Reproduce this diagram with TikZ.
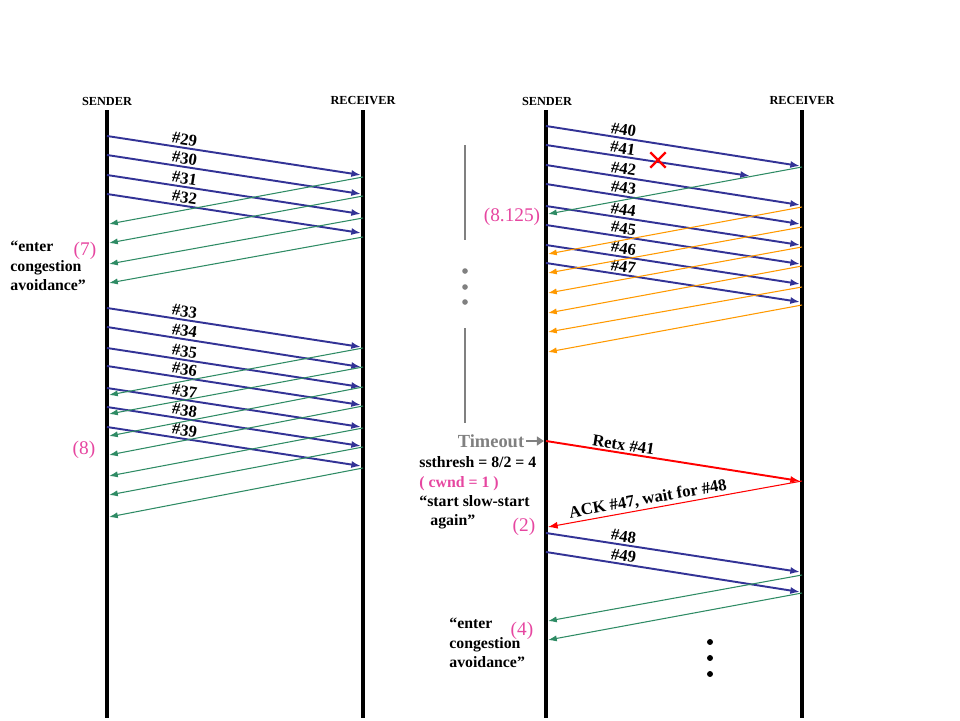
\documentclass[tikz,border=0pt]{standalone}
\usepackage{fontspec}
\setmainfont{Liberation Serif}
\usetikzlibrary{arrows.meta,shapes.misc,positioning}
\definecolor{datablue}{RGB}{51,51,150}
\definecolor{ackgreen}{RGB}{46,139,100}
\definecolor{ackorange}{RGB}{255,153,0}
\definecolor{notepink}{RGB}{230,70,160}
\definecolor{markgray}{RGB}{128,128,128}

\begin{document}
\begin{tikzpicture}[x=0.02cm,y=-0.02cm,
    life/.style={line width=2pt},
    hdr/.style={font=\bfseries\fontsize{7}{8}\selectfont},
    data/.style={datablue, line width=1.1pt, -{Latex[length=5.5pt,width=4pt]}},
    ack/.style={ackgreen, line width=0.6pt, -{Latex[length=5pt,width=3.5pt]}},
    ackor/.style={ack, draw=ackorange},
    retx/.style={red, line width=1.1pt, -{Latex[length=5.5pt,width=4pt]}},
    ackred/.style={red, line width=0.6pt, -{Latex[length=5.5pt,width=4pt]}},
    seg/.style={text=black, font=\bfseries\fontsize{9.5}{11}\selectfont, sloped, above, inner sep=1pt, pos=0.3},
    note/.style={font=\bfseries\fontsize{9}{11}\selectfont, align=left, anchor=west, inner sep=0pt},
    cnt/.style={notepink, font=\fontsize{11}{13}\selectfont, inner sep=0pt}]
  \useasboundingbox (0,0) rectangle (960,720);

  % lifelines
  \node [hdr] (snd1) at (107,101) {SENDER};
  \node [hdr] (rcv1) at (363,101) {RECEIVER};
  \node [hdr] (snd2) at (547,101) {SENDER};
  \node [hdr] (rcv2) at (802,101) {RECEIVER};
  \foreach \l/\x in {snd1/107, rcv1/363, snd2/546, rcv2/802} {
    \coordinate (\l top) at (\x,110);
    \coordinate (\l bot) at (\x,718);
    \draw [life] (\l top) -- (\l bot);
  }

  % left: first window
  \foreach \n/\a/\b in {29/136/175, 30/155/194, 31/175/214, 32/194/233} {
    \coordinate (s\n) at (107,\a);
    \coordinate (r\n) at (361,\b);
    \draw [data] (s\n) -- node [seg] {\#\n} (r\n);
  }
  \foreach \i/\a/\b in {1/177/224, 2/196/243, 3/218/264, 4/237/283} {
    \coordinate (ra\i) at (363,\a);
    \coordinate (sa\i) at (109,\b);
    \draw [ack] (ra\i) -- (sa\i);
  }
  \node [cnt] (cnt7) at (85,251) {(7)};
  \node [note] (cong1) at (10,266) {“enter\\congestion\\avoidance”};

  % left: second window
  \foreach \n/\a/\b in {33/308/347, 34/327/367, 35/348/387, 36/366/405,
                        37/388/427, 38/407/446, 39/427/466} {
    \coordinate (s\n) at (107,\a);
    \coordinate (r\n) at (361,\b);
    \draw [data] (s\n) -- node [seg] {\#\n} (r\n);
  }
  \foreach \i/\a/\b in {5/348/395, 6/367/414, 7/387/436, 8/406/455,
                        9/428/476, 10/447/495, 11/468/517} {
    \coordinate (ra\i) at (363,\a);
    \coordinate (sa\i) at (109,\b);
    \draw [ack] (ra\i) -- (sa\i);
  }
  \node [cnt] (cnt8) at (84,450) {(8)};

  % right: window with loss
  \foreach \n/\a/\b in {40/126/166, 42/165/205, 43/184/224, 44/206/245,
                        45/225/264, 46/245/284, 47/263/302} {
    \coordinate (s\n) at (546,\a);
    \coordinate (r\n) at (800,\b);
    \draw [data] (s\n) -- node [seg] {\#\n} (r\n);
  }
  \coordinate (s41) at (546,145);
  \coordinate (r41) at (750,176);
  \draw [data] (s41) -- node [seg, pos=0.37] {\#41} (r41);
  \node [cross out, draw=red, line width=1.4pt, minimum size=0.26cm, inner sep=0pt] (loss) at (658,160) {};
  \coordinate (ra12) at (802,167);
  \coordinate (sa12) at (548,214);
  \draw [ack] (ra12) -- (sa12);
  \foreach \i/\a/\b in {13/207/254, 14/227/273, 15/247/293, 16/266/313,
                        17/287/332, 18/305/352} {
    \coordinate (ra\i) at (802,\a);
    \coordinate (sa\i) at (548,\b);
    \draw [ackor] (ra\i) -- (sa\i);
  }
  \node [cnt] (cnt8b) at (512,217) {(8.125)};

  % waiting for timeout
  \draw [markgray, line width=1.7pt] (465,145) -- (465,240);
  \draw [markgray, line width=1.7pt] (465,328) -- (465,423);
  \foreach \y in {271,287,302} \fill [markgray] (465,\y) circle [radius=1.6pt];

  % timeout and retransmission
  \node [markgray, font=\bfseries\fontsize{10.5}{12}\selectfont, inner sep=1pt] (tout) at (491,441) {Timeout};
  \coordinate (tin) at (544,441);
  \draw [markgray, line width=1.7pt, -{Triangle[length=4pt,width=5pt]}] (tout.east) -- (tin);
  \coordinate (srx) at (546,441);
  \coordinate (rrx) at (800,481);
  \draw [retx] (srx) -- node [seg] {Retx \#41} (rrx);
  \coordinate (rack) at (802,481);
  \coordinate (sack) at (548,527);
  \draw [ackred] (rack) -- node [seg, pos=0.6] {ACK \#47, wait for \#48} (sack);
  \node [note] (thr) at (419,493) {ssthresh = 8/2 = 4\\\textcolor{notepink}{( cwnd = 1 )}\\“start slow-start\\\hspace*{0.7em}again”};
  \node [cnt] (cnt2) at (524,527) {(2)};

  % slow start again
  \foreach \n/\a/\b in {48/533/572, 49/552/592} {
    \coordinate (s\n) at (546,\a);
    \coordinate (r\n) at (800,\b);
    \draw [data] (s\n) -- node [seg] {\#\n} (r\n);
  }
  \foreach \i/\a/\b in {19/575/621, 20/593/640} {
    \coordinate (ra\i) at (802,\a);
    \coordinate (sa\i) at (548,\b);
    \draw [ack] (ra\i) -- (sa\i);
  }
  \node [cnt] (cnt4) at (522,631) {(4)};
  \node [note] (cong2) at (449,643) {“enter\\congestion\\avoidance”};
  \foreach \y in {642,658,674} \fill (710,\y) circle [radius=1.7pt];
\end{tikzpicture}
\end{document}
